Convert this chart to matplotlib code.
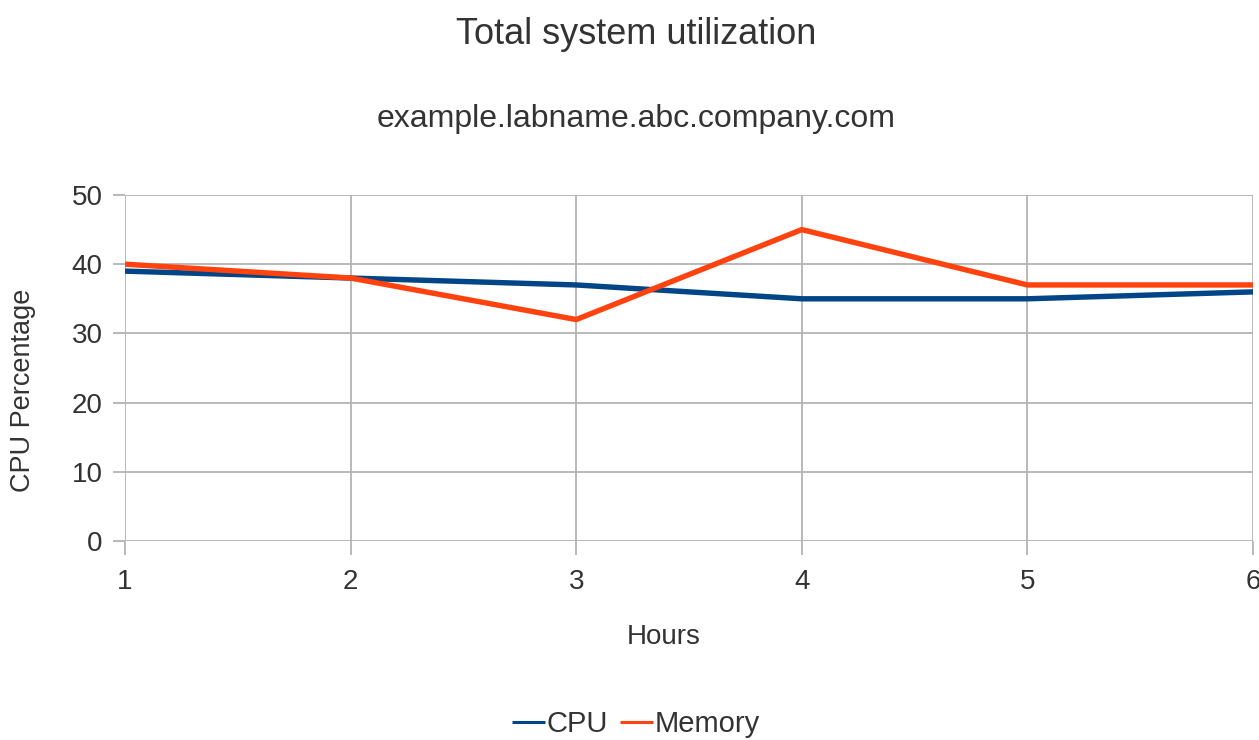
import numpy as np
import matplotlib.pyplot as plt

plt.rcParams['font.family'] = ['Liberation Sans', 'DejaVu Sans']

# datos
horas = [1, 2, 3, 4, 5, 6]
cpu = [39, 38, 37, 35, 35, 36]
memoria = [40, 38, 32, 45, 37, 37]

fig = plt.figure(figsize=(12.59, 7.4), dpi=100)
ax = fig.add_axes([0.0993, 0.2689, 0.8959, 0.4676])

ax.plot(horas, cpu, color='#004586', lw=3.9, label='CPU', solid_capstyle='butt')
ax.plot(horas, memoria, color='#ff420e', lw=3.9, label='Memory', solid_capstyle='butt')

ax.set_xlim(1, 6)
ax.set_ylim(0, 50)
ax.set_xticks(horas)
ax.set_yticks(np.arange(0, 51, 10))
ax.grid(True, color='#b3b3b3', lw=1.3)
ax.set_axisbelow(True)
for s in ax.spines.values():
    s.set_visible(False)
ax.tick_params(axis='both', colors='#b3b3b3', width=1.3, labelcolor='#333333', labelsize=20)
ax.tick_params(axis='x', length=10, pad=10)
ax.tick_params(axis='y', length=9, pad=7)

fig.text(0.505, 0.953, 'Total system utilization', ha='center', va='center', fontsize=26, color='#333333')
fig.text(0.505, 0.839, 'example.labname.abc.company.com', ha='center', va='center', fontsize=23, color='#333333')
fig.text(0.527, 0.139, 'Hours', ha='center', va='center', fontsize=20, color='#333333')
fig.text(0.018, 0.473, 'CPU Percentage', ha='center', va='center', rotation=90, fontsize=19.5, color='#333333')

fig.legend(loc='center', bbox_to_anchor=(0.505, 0.022), ncol=2, frameon=False,
           fontsize=21, handlelength=1.15, handletextpad=0.05, columnspacing=0.4,
           labelcolor='#333333', borderpad=0)
for l in fig.legends[0].get_lines():
    l.set_linewidth(2.2)

fig.savefig('out.png', dpi=100)
